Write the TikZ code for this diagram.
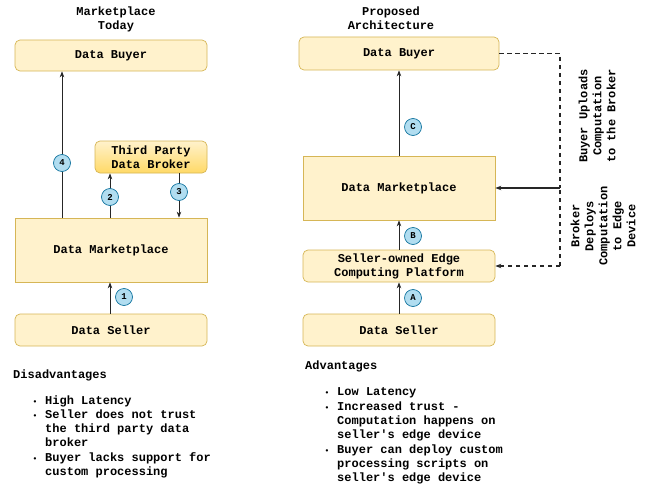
\documentclass[tikz,border=0pt]{standalone}
\usepackage{fontspec}
\setmainfont{Liberation Mono}
\usetikzlibrary{arrows.meta,calc}
\definecolor{boxfill}{HTML}{FFF2CC}
\definecolor{boxdraw}{HTML}{D6B656}
\definecolor{brokertop}{HTML}{FFF2CC}
\definecolor{brokerbot}{HTML}{FFD966}
\definecolor{circfill}{HTML}{B1DDF0}
\definecolor{circdraw}{HTML}{10739E}
\tikzset{
  box/.style={draw=boxdraw, fill=boxfill, line width=0.7pt, inner sep=0pt, align=center,
    font=\bfseries\fontsize{12}{14}\selectfont},
  rbox/.style={box, rounded corners=5pt},
  num/.style={circle, draw=circdraw, fill=circfill, line width=0.7pt, minimum size=17pt, inner sep=0pt,
    font=\bfseries\fontsize{9}{9}\selectfont},
  conn/.style={draw=black!85, line width=0.8pt, -{Stealth[length=6pt,width=4.5pt]}},
  dconn/.style={draw=black!85, line width=1.1pt, dash pattern=on 4.5pt off 3.5pt, -{Stealth[length=6pt,width=4.5pt]}},
  dline/.style={draw=black!85, line width=1.1pt, dash pattern=on 4.5pt off 3.5pt},
  ttl/.style={align=center, inner sep=0pt, font=\bfseries\fontsize{12}{14}\selectfont},
  ln/.style={anchor=base west, inner sep=0pt, font=\bfseries\fontsize{12}{14}\selectfont},
  bul/.style={anchor=base, inner sep=0pt, font=\bfseries\fontsize{8}{14}\selectfont},
}
\begin{document}
\begin{tikzpicture}[x=1pt,y=-1pt]
\useasboundingbox (0,0) rectangle (647,487);
% ---------- left ----------
\node[ttl] (tl) at (116,19) {Marketplace\\Today};
\node[rbox, minimum width=192pt, minimum height=31pt] (lbuyer) at (111,55.5) {Data Buyer};
\node[box, rounded corners=5pt, draw=boxdraw, top color=brokertop, bottom color=brokerbot,
      minimum width=112pt, minimum height=32pt] (broker) at (151,157) {Third Party\\Data Broker};
\node[box, minimum width=192pt, minimum height=64pt] (lmkt) at (111,250) {Data Marketplace};
\node[rbox, minimum width=192pt, minimum height=32pt] (lseller) at (111,330) {Data Seller};

\draw[conn] (lmkt.north -| 62,0) -- (lbuyer.south -| 62,0);
\draw[conn] (lmkt.north -| 110,0) -- (broker.south -| 110,0);
\draw[conn] (broker.south -| 179,0) -- (lmkt.north -| 179,0);
\draw[conn] (lseller.north -| 110,0) -- (lmkt.south -| 110,0);
\node[num] (n4) at (62,163) {4};
\node[num] (n2) at (110,197) {2};
\node[num] (n3) at (179,192) {3};
\node[num] (n1) at (124,297) {1};

% ---------- right ----------
\node[ttl] (tr) at (391,18) {Proposed\\Architecture};
\node[rbox, minimum width=200pt, minimum height=33pt] (rbuyer) at (399,53.5) {Data Buyer};
\node[box, minimum width=192pt, minimum height=64pt] (rmkt) at (399,188) {Data Marketplace};
\node[rbox, minimum width=192pt, minimum height=32pt] (edge) at (399,266) {Seller-owned Edge\\Computing Platform};
\node[rbox, minimum width=192pt, minimum height=32pt] (rseller) at (399,330) {Data Seller};

\draw[conn] (rmkt.north) -- (rbuyer.south);
\draw[conn] (edge.north) -- (rmkt.south);
\draw[conn] (rseller.north) -- (edge.south);
\node[num] (nc) at (413,127) {C};
\node[num] (nb) at (413,236) {B};
\node[num] (na) at (413,298) {A};

\coordinate (jn) at (560,188);
\draw[dline] (rbuyer.east) -- (rbuyer.east -| jn) -- (jn);
\draw[dconn] (jn |- edge.east) -- (edge.east);
\draw[dline] (jn |- edge.east) -- (jn);
\draw[conn, line width=1.1pt] (jn) -- (rmkt.east);

\node[ttl, rotate=90] (up) at (597,116) {Buyer Uploads\\Computation\\to the Broker};
\node[ttl, rotate=90] (dep) at (603,226) {Broker\\Deploys\\Computation\\to Edge\\Device};

% ---------- lists ----------
\node[ln] (dis) at (13,378) {Disadvantages};
\node[bul] (b1) at (35,404) {•};
\node[ln] (l1) at (45,404) {High Latency};
\node[bul] (b2) at (35,418) {•};
\node[ln] (l2) at (45,418) {Seller does not trust};
\node[ln] (l3) at (45,432) {the third party data};
\node[ln] (l4) at (45,446) {broker};
\node[bul] (b3) at (35,461) {•};
\node[ln] (l5) at (45,461) {Buyer lacks support for};
\node[ln] (l6) at (45,475) {custom processing};

\node[ln] (adv) at (305,369) {Advantages};
\node[bul] (c1) at (327,395) {•};
\node[ln] (r1) at (337,395) {Low Latency};
\node[bul] (c2) at (327,410) {•};
\node[ln] (r2) at (337,410) {Increased trust -};
\node[ln] (r3) at (337,424) {Computation happens on};
\node[ln] (r4) at (337,438) {seller\textquotesingle s edge device};
\node[bul] (c3) at (327,453) {•};
\node[ln] (r5) at (337,453) {Buyer can deploy custom};
\node[ln] (r6) at (337,467) {processing scripts on};
\node[ln] (r7) at (337,481) {seller\textquotesingle s edge device};
\end{tikzpicture}
\end{document}
